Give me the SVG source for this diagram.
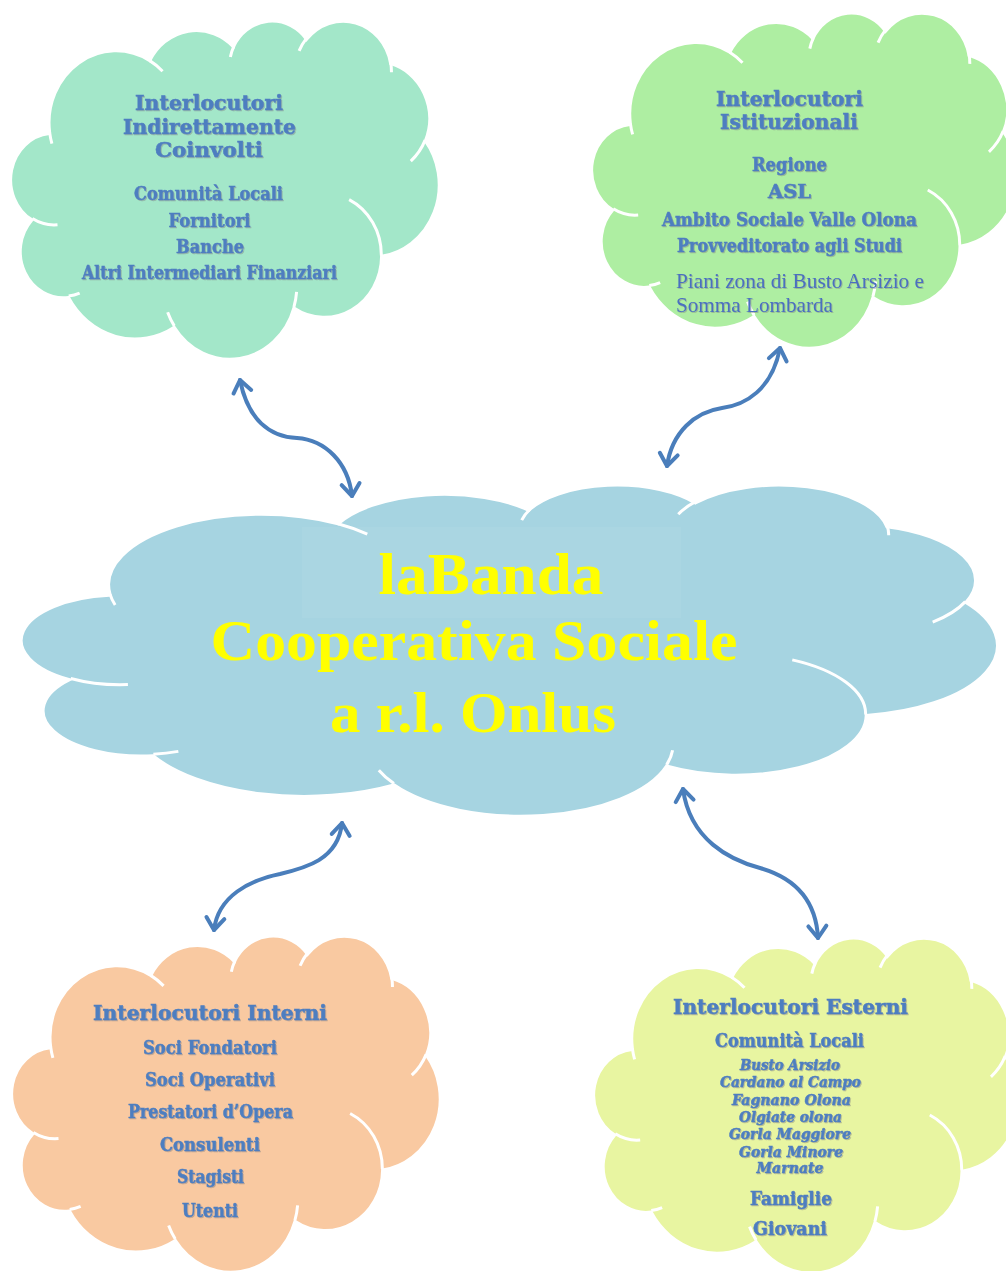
<svg xmlns="http://www.w3.org/2000/svg" xmlns:xlink="http://www.w3.org/1999/xlink" width="1006" height="1271" viewBox="0 0 1006 1271">
<style>
.cl{stroke:#ffffff;stroke-width:3}
.t{font-family:"DejaVu Serif","Liberation Serif",serif;font-weight:bold;fill:#4E7EC0;stroke:#4E7EC0;stroke-width:0.5;text-anchor:middle;filter:url(#sh)}
.h{font-size:20px}
.b{font-size:18px}
.i{font-size:14px;font-style:italic}
.p{font-family:"Liberation Serif","Times New Roman",serif;font-size:21px;fill:#4A6FC0;filter:url(#sh)}
.c{font-family:"Liberation Serif","Times New Roman",serif;font-weight:bold;fill:#FFFF00;text-anchor:middle}
.ar{fill:none;stroke:#4A7EBB;stroke-width:4;stroke-linecap:round}
</style>
<defs>
<filter id="sh" x="-5%" y="-20%" width="110%" height="140%">
<feDropShadow dx="1" dy="1" stdDeviation="0.4" flood-color="#7f7f7f" flood-opacity="0.45"/>
</filter>
<path id="cloud" vector-effect="non-scaling-stroke" d="M3900 14370 A6753 9190 0 0 1 14005 5202 A5333 7267 0 0 1 22456 3432 A4365 5945 0 0 1 29833 2481 A4857 6595 0 0 1 38318 5576 A5333 7273 0 0 1 41818 15460 A6775 9220 0 0 1 37404 30203 A5785 7867 0 0 1 28556 36813 A6752 9215 0 0 1 16480 39264 A7720 10543 0 0 1 5805 35470 A4360 5918 0 0 1 2113 25548 A4345 5945 0 0 1 3863 14505 Z"/>
<path id="inner" vector-effect="non-scaling-stroke" fill="none" d="M4693 26177 A4345 5945 0 0 1 2160 25380 M6928 34899 A4360 5918 0 0 1 5820 35280 M16478 39090 A6752 9215 0 0 1 15810 37350 M28827 34751 A6752 9215 0 0 1 28560 36660 M34129 22954 A5785 7867 0 0 1 37380 30090 M41798 15354 A5333 7273 0 0 1 40350 18030 M38324 5426 A4857 6595 0 0 1 38400 6690 M29078 3952 A4857 6595 0 0 1 29820 2340 M22141 4720 A4365 5945 0 0 1 22500 3330 M14000 5192 A6753 9190 0 0 1 15300 6540 M4127 15789 A6753 9190 0 0 1 3900 14370"/>
<marker id="hd" markerUnits="userSpaceOnUse" markerWidth="34" markerHeight="34" viewBox="-17 -17 34 34" refX="0" refY="0" orient="auto-start-reverse">
<path d="M-12 -9 L0 0 L-12 9" fill="none" stroke="#4A7EBB" stroke-width="4" stroke-linecap="round" stroke-linejoin="round"/>
</marker>
</defs>

<g id="node-indiretti">
<g transform="translate(11,20) scale(0.0099074,0.0078241)">
<use href="#cloud" class="cl" fill="#A3E7C9"/>
<use href="#inner" class="cl"/>
</g>
<text class="t h" x="209" y="109.5" textLength="148" lengthAdjust="spacingAndGlyphs">Interlocutori</text>
<text class="t h" x="209.5" y="134" textLength="173" lengthAdjust="spacingAndGlyphs">Indirettamente</text>
<text class="t h" x="209" y="157" textLength="108" lengthAdjust="spacingAndGlyphs">Coinvolti</text>
<text class="t b" x="208.5" y="200" textLength="149" lengthAdjust="spacingAndGlyphs">Comunità Locali</text>
<text class="t b" x="209.5" y="226.5" textLength="82" lengthAdjust="spacingAndGlyphs">Fornitori</text>
<text class="t b" x="210" y="252.5" textLength="68" lengthAdjust="spacingAndGlyphs">Banche</text>
<text class="t b" x="209.5" y="279" textLength="255" lengthAdjust="spacingAndGlyphs">Altri Intermediari Finanziari</text>
</g>

<g id="node-istituzionali">
<g transform="translate(592,12) scale(0.009838,0.0077546)">
<use href="#cloud" class="cl" fill="#AEEEA2"/>
<use href="#inner" class="cl"/>
</g>
<text class="t h" x="789.5" y="106" textLength="147" lengthAdjust="spacingAndGlyphs">Interlocutori</text>
<text class="t h" x="789" y="129" textLength="138" lengthAdjust="spacingAndGlyphs">Istituzionali</text>
<text class="t b" x="789.5" y="170.5" textLength="75" lengthAdjust="spacingAndGlyphs">Regione</text>
<text class="t b" x="789.5" y="198" textLength="43" lengthAdjust="spacingAndGlyphs">ASL</text>
<text class="t b" x="789.5" y="225.5" textLength="255" lengthAdjust="spacingAndGlyphs">Ambito Sociale Valle Olona</text>
<text class="t b" x="789.5" y="251.5" textLength="225" lengthAdjust="spacingAndGlyphs">Provveditorato agli Studi</text>
<text class="p" x="676" y="288" textLength="248" lengthAdjust="spacingAndGlyphs">Piani zona di Busto Arsizio e</text>
<text class="p" x="676" y="311.5" textLength="157" lengthAdjust="spacingAndGlyphs">Somma Lombarda</text>
</g>

<g id="node-labanda">
<g transform="translate(22,484) scale(0.0225694,0.007662)">
<use href="#cloud" class="cl" fill="#A6D4E1"/>
<use href="#inner" class="cl"/>
</g>
<rect x="302" y="527" width="379" height="91" fill="#ffffff" fill-opacity="0.05"/>
<text class="c" x="491" y="594" font-size="60" textLength="225" lengthAdjust="spacingAndGlyphs">laBanda</text>
<text class="c" x="474" y="660" font-size="56" textLength="527" lengthAdjust="spacingAndGlyphs">Cooperativa Sociale</text>
<text class="c" x="473" y="731.5" font-size="56" textLength="286" lengthAdjust="spacingAndGlyphs">a r.l. Onlus</text>
</g>

<g id="node-interni">
<g transform="translate(12,935) scale(0.0099074,0.0077778)">
<use href="#cloud" class="cl" fill="#F9C9A1"/>
<use href="#inner" class="cl"/>
</g>
<text class="t h" x="210" y="1020" font-size="21" textLength="234" lengthAdjust="spacingAndGlyphs">Interlocutori Interni</text>
<text class="t b" x="210" y="1054" textLength="134" lengthAdjust="spacingAndGlyphs">Soci Fondatori</text>
<text class="t b" x="210" y="1085.5" textLength="130" lengthAdjust="spacingAndGlyphs">Soci Operativi</text>
<text class="t b" x="210.5" y="1118" textLength="165" lengthAdjust="spacingAndGlyphs">Prestatori d’Opera</text>
<text class="t b" x="210" y="1151" textLength="100" lengthAdjust="spacingAndGlyphs">Consulenti</text>
<text class="t b" x="210.5" y="1183" textLength="67" lengthAdjust="spacingAndGlyphs">Stagisti</text>
<text class="t b" x="210" y="1216.5" textLength="56" lengthAdjust="spacingAndGlyphs">Utenti</text>
</g>

<g id="node-esterni">
<g transform="translate(594,937) scale(0.009838,0.0077546)">
<use href="#cloud" class="cl" fill="#E8F5A1"/>
<use href="#inner" class="cl"/>
</g>
<text class="t h" x="790.5" y="1014" textLength="235" lengthAdjust="spacingAndGlyphs">Interlocutori Esterni</text>
<text class="t b" x="789.5" y="1047" textLength="149" lengthAdjust="spacingAndGlyphs">Comunità Locali</text>
<text class="t i" x="790" y="1070" textLength="100" lengthAdjust="spacingAndGlyphs">Busto Arsizio</text>
<text class="t i" x="790.5" y="1087" textLength="141" lengthAdjust="spacingAndGlyphs">Cardano al Campo</text>
<text class="t i" x="791.5" y="1105" textLength="119" lengthAdjust="spacingAndGlyphs">Fagnano Olona</text>
<text class="t i" x="790.5" y="1121.5" textLength="103" lengthAdjust="spacingAndGlyphs">Olgiate olona</text>
<text class="t i" x="790" y="1139" textLength="122" lengthAdjust="spacingAndGlyphs">Gorla Maggiore</text>
<text class="t i" x="791" y="1156.5" textLength="104" lengthAdjust="spacingAndGlyphs">Gorla Minore</text>
<text class="t i" x="790" y="1173" textLength="67" lengthAdjust="spacingAndGlyphs">Marnate</text>
<text class="t b" x="791" y="1205" textLength="82" lengthAdjust="spacingAndGlyphs">Famiglie</text>
<text class="t b" x="790" y="1235" textLength="74" lengthAdjust="spacingAndGlyphs">Giovani</text>
</g>

<g id="connectors">
<path class="ar" marker-start="url(#hd)" marker-end="url(#hd)" d="M240 380 C248 420 270 437 297 438 C325 440 348 462 352 496"/>
<path class="ar" marker-start="url(#hd)" marker-end="url(#hd)" d="M780 348 C772 390 745 405 722 408 C695 412 672 432 667 466"/>
<path class="ar" marker-start="url(#hd)" marker-end="url(#hd)" d="M342 823 C338 860 305 868 280 874 C250 880 218 896 214 930"/>
<path class="ar" marker-start="url(#hd)" marker-end="url(#hd)" d="M683 789 C690 840 730 860 760 868 C795 878 816 900 818 938"/>
</g>
</svg>
